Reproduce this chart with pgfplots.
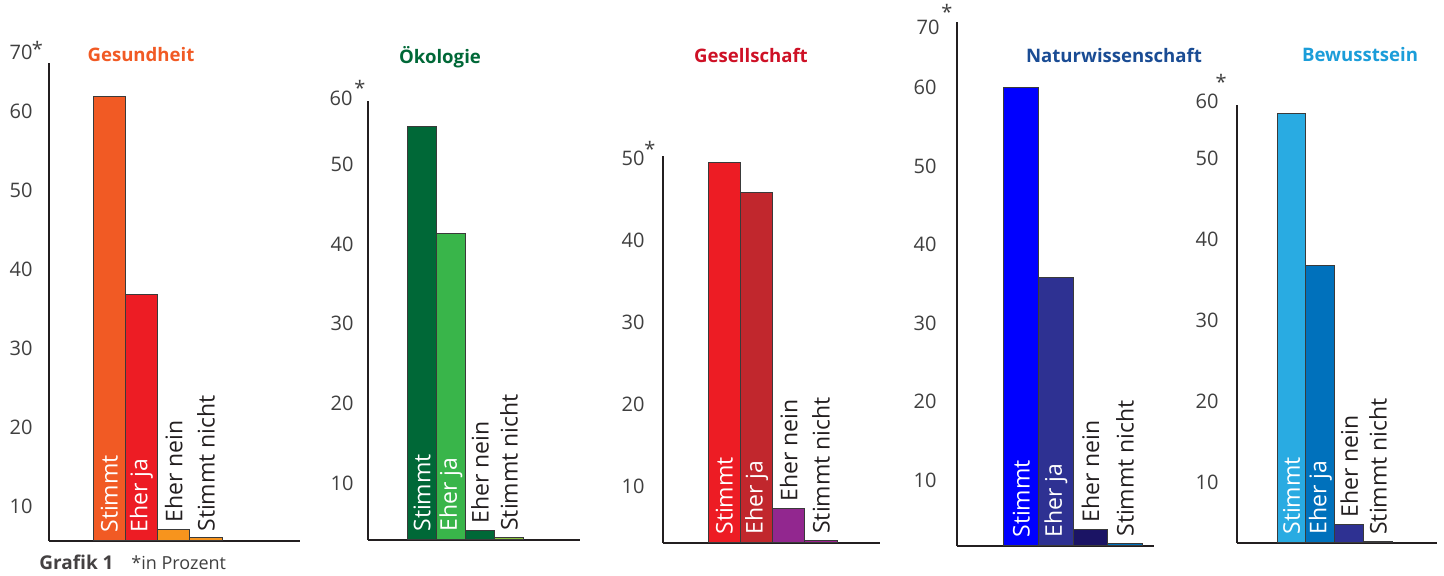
\documentclass[border=0pt]{standalone}
\usepackage{fontspec}
\setmainfont{Open Sans}
\usepackage{pgfplots}
\pgfplotsset{compat=1.18}

\definecolor{axisc}{HTML}{231F20}
\definecolor{tickc}{HTML}{3F3F3F}
\definecolor{labc}{HTML}{231F20}
\definecolor{outc}{HTML}{3A3A3A}
% panel colours
\definecolor{p1t}{HTML}{F15A24}
\definecolor{p1a}{HTML}{F15A24}
\definecolor{p1b}{HTML}{ED1C24}
\definecolor{p1c}{HTML}{F7941D}
\definecolor{p1d}{HTML}{F7941D}
\definecolor{p2t}{HTML}{006837}
\definecolor{p2a}{HTML}{006837}
\definecolor{p2b}{HTML}{39B54A}
\definecolor{p2c}{HTML}{006837}
\definecolor{p2d}{HTML}{8CC63F}
\definecolor{p3t}{HTML}{CE1126}
\definecolor{p3a}{HTML}{ED1C24}
\definecolor{p3b}{HTML}{C1272D}
\definecolor{p3c}{HTML}{92278F}
\definecolor{p3d}{HTML}{9E1F8F}
\definecolor{p4t}{HTML}{1A4C94}
\definecolor{p4a}{HTML}{0000FF}
\definecolor{p4b}{HTML}{2E3192}
\definecolor{p4c}{HTML}{1B1464}
\definecolor{p4d}{HTML}{0071BC}
\definecolor{p5t}{HTML}{1B9DD9}
\definecolor{p5a}{HTML}{29ABE2}
\definecolor{p5b}{HTML}{0071BC}
\definecolor{p5c}{HTML}{2E3192}
\definecolor{p5d}{HTML}{6FA8BF}

\newcommand\tickfont{\fontsize{10}{12}\selectfont}
\newcommand\barfont{\fontsize{11.5}{13}\selectfont}
\newcommand\titlefont{\fontsize{9.3}{11}\selectfont\bfseries}
\newcommand\astmark{\raisebox{-4.2pt}[3.4pt][0pt]{*}}

\pgfplotsset{
  panel/.style={scale only axis, anchor=south west,
    axis lines=left, axis line style={-, line width=1pt, draw=axisc},
    xtick=\empty, ytick={10,20,30,40,50,60},
    major tick length=0pt, tick style={draw=none},
    /pgf/number format/assume math mode=true,
    yticklabel style={font=\tickfont, text=tickc, anchor=east, inner sep=0pt}},
  bar/.style={ybar, bar width=1, draw=outc, line width=0.5pt},
}
\tikzset{
  inlab/.style={rotate=90, anchor=west, inner xsep=4pt, inner ysep=0pt, font=\barfont, text=white},
  outlab/.style={rotate=90, anchor=west, inner xsep=3pt, inner ysep=0pt, font=\barfont, text=labc},
  astlab/.style={anchor=north, inner sep=0pt, font=\tickfont, text=tickc},
}

\begin{document}
\begin{tikzpicture}
\useasboundingbox (0,0) rectangle (722pt,288pt);

% Panel 1: Gesundheit
\begin{axis}[panel, at={(24.5pt,17.5pt)}, width=125.5pt, height=239pt,
  xmin=-1.873, xmax=5.922, ymin=5.58, ymax=66.19, yticklabel style={xshift=-8pt}]
\addplot[bar, fill=p1a] coordinates {(0,61.95)};
\addplot[bar, fill=p1b] coordinates {(1,36.78)};
\addplot[bar, fill=p1c] coordinates {(2,7.10)};
\addplot[bar, fill=p1d] coordinates {(3,5.96)};
\node[inlab] at (axis cs:0,5.58) {Stimmt};
\node[inlab] at (axis cs:1,5.58) {Eher ja};
\node[outlab] at (axis cs:2,7.10) {Eher nein};
\node[outlab] at (axis cs:3,5.96) {Stimmt nicht};
\end{axis}

% Panel 2: Ökologie
\begin{axis}[panel, at={(184pt,18pt)}, width=106pt, height=219.5pt,
  xmin=-1.862, xmax=5.448, ymin=2.85, ymax=57.92, yticklabel style={xshift=-7pt}]
\addplot[bar, fill=p2a] coordinates {(0,54.67)};
\addplot[bar, fill=p2b] coordinates {(1,41.24)};
\addplot[bar, fill=p2c] coordinates {(2,4.10)};
\addplot[bar, fill=p2d] coordinates {(3,3.22)};
\node[inlab] at (axis cs:0,2.85) {Stimmt};
\node[inlab] at (axis cs:1,2.85) {Eher ja};
\node[outlab] at (axis cs:2,4.10) {Eher nein};
\node[outlab] at (axis cs:3,3.22) {Stimmt nicht};
\end{axis}

% Panel 3: Gesellschaft
\begin{axis}[panel, at={(331.5pt,16.5pt)}, width=108.5pt, height=193.5pt,
  xmin=-1.901, xmax=4.828, ymin=3.05, ymax=50.29, yticklabel style={xshift=-9pt}]
\addplot[bar, fill=p3a] coordinates {(0,49.44)};
\addplot[bar, fill=p3b] coordinates {(1,45.78)};
\addplot[bar, fill=p3c] coordinates {(2,7.31)};
\addplot[bar, fill=p3d] coordinates {(3,3.41)};
\node[inlab] at (axis cs:0,3.05) {Stimmt};
\node[inlab] at (axis cs:1,3.05) {Eher ja};
\node[outlab] at (axis cs:2,7.31) {Eher nein};
\node[outlab] at (axis cs:3,3.41) {Stimmt nicht};
\end{axis}

% Panel 4: Naturwissenschaft
\begin{axis}[panel, at={(478.5pt,15pt)}, width=98.5pt, height=262pt,
  xmin=-1.858, xmax=3.836, ymin=1.61, ymax=68.39, yticklabel style={xshift=-10pt}]
\addplot[bar, fill=p4a] coordinates {(0,59.98)};
\addplot[bar, fill=p4b] coordinates {(1,35.89)};
\addplot[bar, fill=p4c] coordinates {(2,3.77)};
\addplot[bar, fill=p4d] coordinates {(3,1.99)};
\node[inlab] at (axis cs:0,1.61) {Stimmt};
\node[inlab] at (axis cs:1,1.61) {Eher ja};
\node[outlab] at (axis cs:2,3.77) {Eher nein};
\node[outlab] at (axis cs:3,1.99) {Stimmt nicht};
\end{axis}

% Panel 5: Bewusstsein
\begin{axis}[panel, at={(618.5pt,16.5pt)}, width=100pt, height=219pt,
  xmin=-1.889, xmax=5.043, ymin=2.57, ymax=56.64, yticklabel style={xshift=-9pt}]
\addplot[bar, fill=p5a] coordinates {(0,55.65)};
\addplot[bar, fill=p5b] coordinates {(1,36.77)};
\addplot[bar, fill=p5c] coordinates {(2,4.91)};
\addplot[bar, fill=p5d] coordinates {(3,2.81)};
\node[inlab] at (axis cs:0,2.57) {Stimmt};
\node[inlab] at (axis cs:1,2.57) {Eher ja};
\node[outlab] at (axis cs:2,4.91) {Eher nein};
\node[outlab] at (axis cs:3,2.81) {Stimmt nicht};
\end{axis}

% titles
\node[anchor=base, font=\titlefont, text=p1t] at (70.5pt,257pt) {Gesundheit};
\node[anchor=base, font=\titlefont, text=p2t] at (220pt,256pt) {Ökologie};
\node[anchor=base, font=\titlefont, text=p3t] at (375.5pt,256.5pt) {Gesellschaft};
\node[anchor=base, font=\titlefont, text=p4t] at (557pt,256.5pt) {Naturwissenschaft};
\node[anchor=base, font=\titlefont, text=p5t] at (680pt,257pt) {Bewusstsein};

% top tick labels with asterisks
\node[anchor=east, inner sep=0pt, font=\tickfont, text=tickc] at (16.5pt,262pt) {70};
\node[astlab] at (18.75pt,267.5pt) {\astmark};
\node[anchor=east, inner sep=0pt, font=\tickfont, text=tickc] at (176.5pt,239pt) {60};
\node[astlab] at (180pt,248pt) {\astmark};
\node[astlab] at (325pt,217.5pt) {\astmark};
\node[anchor=east, inner sep=0pt, font=\tickfont, text=tickc] at (470pt,274.5pt) {70};
\node[astlab] at (473.5pt,286pt) {\astmark};
\node[anchor=east, inner sep=0pt, font=\tickfont, text=tickc] at (609.5pt,237.5pt) {60};
\node[astlab] at (610.5pt,251pt) {\astmark};

% footer
\node[anchor=base west, inner sep=0pt, font=\fontsize{9.5}{11}\selectfont\bfseries, text=axisc!85] at (19.5pt,3pt) {Grafik 1};
\node[anchor=base west, inner sep=0pt, font=\fontsize{9}{11}\selectfont, text=tickc] at (65.5pt,3pt) {*in Prozent};
\end{tikzpicture}
\end{document}
